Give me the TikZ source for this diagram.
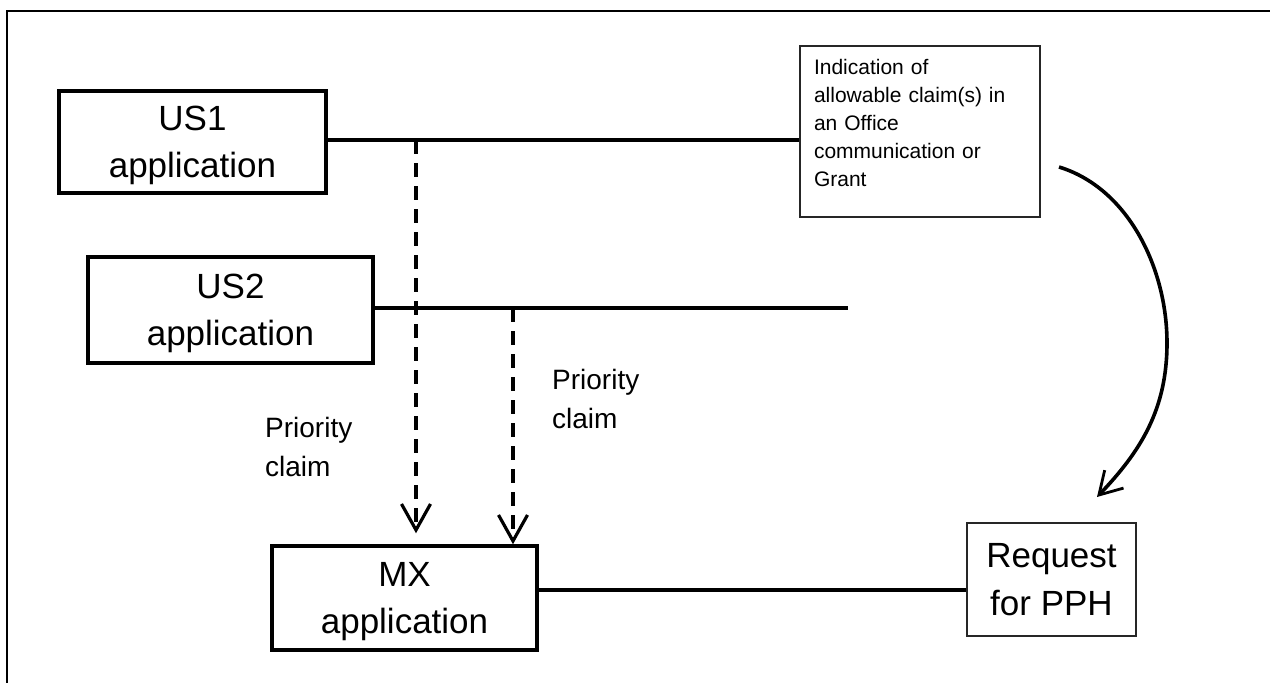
\documentclass[tikz,border=0pt]{standalone}
\usepackage{fontspec}
\setmainfont{Liberation Sans}
\usetikzlibrary{arrows.meta,calc}

\tikzset{
  appbox/.style={draw=black, line width=3.5pt, minimum width=#1, inner sep=0pt,
                 align=center, text depth=0pt,
                 font=\fontsize{35}{47}\selectfont},
  notebox/.style={draw=black!85, line width=1.3pt, inner sep=0pt},
  link/.style={line width=3.4pt},
  prio/.style={line width=3.2pt, dash pattern=on 14pt off 9pt,
               -{Straight Barb[length=26pt,width=29pt]}},
  prioLabel/.style={anchor=west, inner sep=0pt, align=left, text depth=0pt,
                    font=\fontsize{28}{39}\selectfont},
  flow/.style={line width=3.6pt, -{Straight Barb[length=22pt,width=26pt,line width=2.8pt]}},
  frame/.style={line width=2pt}
}

\begin{document}
\begin{tikzpicture}[x=1pt,y=-1pt]
  \useasboundingbox (0,0) rectangle (1270,683);

  % page frame (top and left edges)
  \draw[frame] (7,683) -- (7,11) -- (1270,11);

  % applications
  \node[appbox=267pt, minimum height=102pt] (us1) at (192.5,142) {US1\\application};
  \node[appbox=285pt, minimum height=106pt] (us2) at (230.5,310) {US2\\application};
  \node[appbox=265pt, minimum height=104pt] (mx)  at (404.5,598) {MX\\application};

  % office communication and PPH request
  \node[notebox, minimum width=240pt, text width=212pt, inner xsep=14pt,
        align=left, text height=28pt, text depth=143pt,
        font=\fontsize{21}{28}\selectfont] (ind)
        at (920,131.5)
        {Indication of\\allowable claim(s) in\\an Office\\communication or\\Grant};
  \node[notebox, minimum width=169pt, minimum height=113pt, align=center,
        text depth=0pt, font=\fontsize{35}{48}\selectfont] (req)
        at (1051.5,579.5) {Request\\for PPH};

  % time lines of the applications
  \coordinate (us1line) at (us1.east |- 0,140);
  \draw[link] (us1line) -- (us1line -| ind.west);
  \coordinate (us2end) at (848,308);
  \draw[link] (us2.east |- us2end) -- (us2end);
  \coordinate (mxline) at (mx.east |- 0,590);
  \draw[link] (mxline) -- (mxline -| req.west);

  % priority claims
  \coordinate (d1) at (416,140);
  \coordinate (d2) at (513,308);
  \draw[prio] (d1) -- ($(d1 |- mx.north)+(0,-11)$);
  \draw[prio] (d2) -- (d2 |- mx.north);
  \node[prioLabel] (pl1) at (265,447) {Priority\\claim};
  \node[prioLabel] (pl2) at (552,399) {Priority\\claim};

  % from the allowed claims to the PPH request
  \coordinate (cs) at (1059,167);
  \coordinate (cm) at (1167,343);
  \coordinate (ce) at (1097,497);
  \draw[flow] (cs) .. controls (1128,188) and (1167,268) .. (cm)
                   .. controls (1167,410) and (1140,452) .. (ce);
\end{tikzpicture}
\end{document}
